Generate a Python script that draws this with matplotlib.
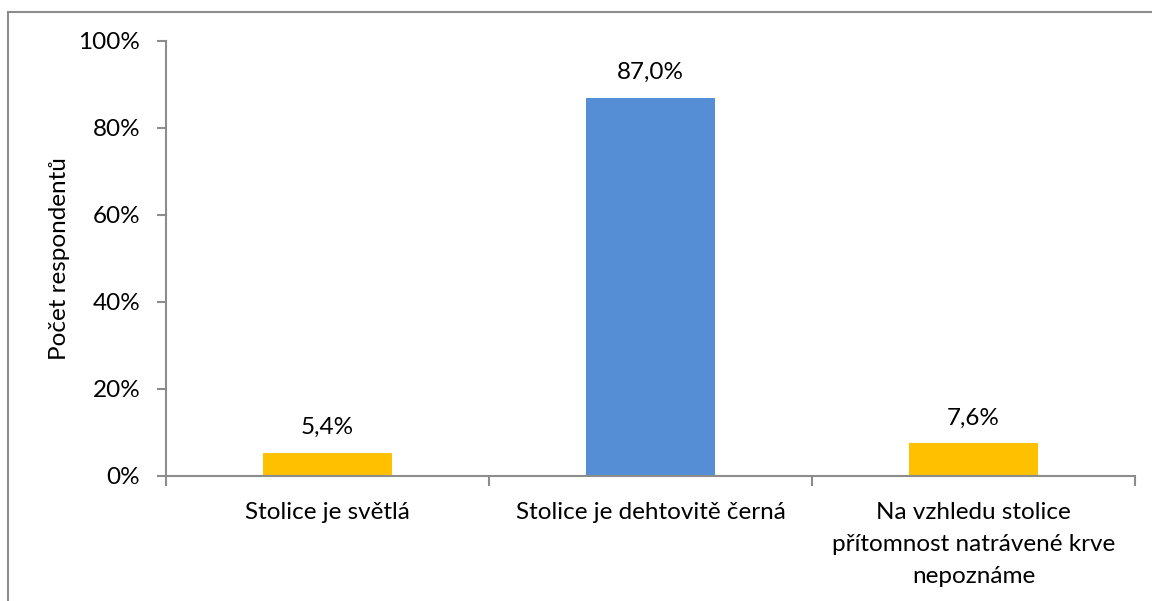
import matplotlib.pyplot as plt
from matplotlib.patches import Rectangle

kategorie = ['Stolice je světlá', 'Stolice je dehtovitě černá',
             'Na vzhledu stolice\npřítomnost natrávené krve\nnepoznáme']
hodnoty = [5.4, 87.0, 7.6]
barvy = ['#FFC000', '#558ED5', '#FFC000']
y_ticky = [0, 20, 40, 60, 80, 100]

plt.rcParams['font.family'] = ['Lato', 'DejaVu Sans']
velikost = 17.5

fig = plt.figure(figsize=(11.52, 6.01), dpi=100)
ax = fig.add_axes([166 / 1152, 1 - 476 / 601, 969 / 1152, 435 / 601])

# ramecek grafu (vidime jen levou a horni hranu)
fig.patches.append(Rectangle((7.5 / 1152, -0.1), 1.2, 1 - 12 / 601 + 0.1,
                             transform=fig.transFigure, fill=False,
                             edgecolor='#8c8c8c', linewidth=1.5))

x = range(len(kategorie))
ax.bar(x, hodnoty, width=0.4, color=barvy)
for i, v in zip(x, hodnoty):
    ax.text(i, v + 3.3, f'{v:.1f}%'.replace('.', ','), ha='center', va='bottom',
            fontsize=velikost, color='black')

ax.set_xlim(-0.5, 2.5)
ax.set_ylim(0, 100)
ax.set_yticks(y_ticky)
ax.set_yticklabels([f'{t}%' for t in y_ticky], fontsize=velikost)
ax.set_xticks([-0.5, 0.5, 1.5, 2.5], minor=False)
ax.set_xticklabels([])
ax.set_xticks(list(x), minor=True)
ax.set_xticklabels(kategorie, minor=True, fontsize=velikost, linespacing=1.65)
ax.tick_params(axis='x', which='minor', length=0, pad=19)
ax.tick_params(axis='x', which='major', length=7, color='#8c8c8c', width=1.5)
ax.tick_params(axis='y', length=6.5, color='#8c8c8c', width=1.5, pad=12)

for s in ['top', 'right']:
    ax.spines[s].set_visible(False)
for s in ['left', 'bottom']:
    ax.spines[s].set_color('#8c8c8c')
    ax.spines[s].set_linewidth(1.5)

ax.set_ylabel('Počet respondentů', fontsize=velikost, labelpad=6)

fig.savefig('out.png', dpi=100)
